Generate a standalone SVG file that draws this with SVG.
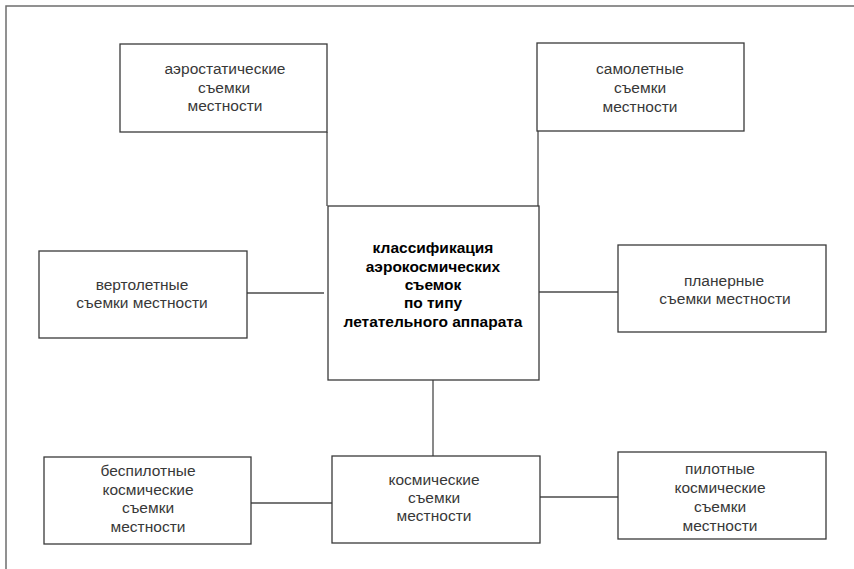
<svg xmlns="http://www.w3.org/2000/svg" width="854" height="569" viewBox="0 0 854 569">
<style>
.frame{fill:none;stroke:#6e6e6e;stroke-width:1.5}
.box{fill:#fff;stroke:#3a3a3a;stroke-width:1.3}
.conn{fill:none;stroke:#4a4a4a;stroke-width:1.3}
.t{font-family:"Liberation Sans",Arial,sans-serif;font-size:15.5px;fill:#383838;text-anchor:middle}
.b{font-family:"Liberation Sans",Arial,sans-serif;font-size:15.5px;font-weight:bold;fill:#000;text-anchor:middle}
</style>
<rect width="854" height="569" fill="#fff"/>
<path class="frame" d="M6,569 V6 H854"/>
<g id="connectors">
<path class="conn" d="M327,132 V206"/>
<path class="conn" d="M538,131 V206"/>
<path class="conn" d="M247,293 H324"/>
<path class="conn" d="M539,292 H618"/>
<path class="conn" d="M433,380 V456"/>
<path class="conn" d="M251,503 H332"/>
<path class="conn" d="M540,497 H618"/>
</g>
<g id="aerostat">
<rect class="box" x="120" y="44" width="207" height="88"/>
<text class="t" x="225" y="74">аэростатические</text>
<text class="t" x="224" y="92.5">съемки</text>
<text class="t" x="225" y="111">местности</text>
</g>
<g id="samolet">
<rect class="box" x="537" y="43" width="207" height="88"/>
<text class="t" x="640" y="74">самолетные</text>
<text class="t" x="640" y="92.5">съемки</text>
<text class="t" x="640" y="111.5">местности</text>
</g>
<g id="center">
<rect class="box" x="328" y="206" width="211" height="174"/>
<text class="b" x="433" y="253">классификация</text>
<text class="b" x="433" y="272">аэрокосмических</text>
<text class="b" x="433" y="290">съемок</text>
<text class="b" x="433" y="308">по типу</text>
<text class="b" x="433" y="327">летательного аппарата</text>
</g>
<g id="vertolet">
<rect class="box" x="39" y="251" width="208" height="87"/>
<text class="t" x="142" y="290">вертолетные</text>
<text class="t" x="142" y="308">съемки местности</text>
</g>
<g id="planer">
<rect class="box" x="618" y="245" width="208" height="87"/>
<text class="t" x="724" y="286">планерные</text>
<text class="t" x="725" y="304">съемки местности</text>
</g>
<g id="kosmos">
<rect class="box" x="332" y="456" width="208" height="87"/>
<text class="t" x="434" y="485">космические</text>
<text class="t" x="434" y="503">съемки</text>
<text class="t" x="434" y="521">местности</text>
</g>
<g id="bespilot">
<rect class="box" x="44" y="457" width="207" height="87"/>
<text class="t" x="148" y="476">беспилотные</text>
<text class="t" x="148" y="495">космические</text>
<text class="t" x="148" y="513">съемки</text>
<text class="t" x="148" y="532">местности</text>
</g>
<g id="pilot">
<rect class="box" x="618" y="452" width="208" height="87"/>
<text class="t" x="720" y="474">пилотные</text>
<text class="t" x="720" y="493">космические</text>
<text class="t" x="720" y="512">съемки</text>
<text class="t" x="720" y="531">местности</text>
</g>
</svg>
